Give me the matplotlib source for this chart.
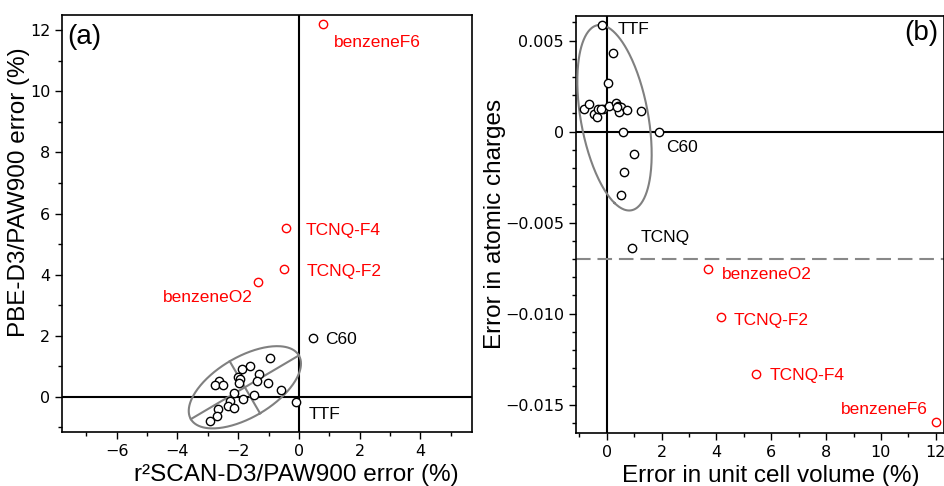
import numpy as np
import matplotlib
matplotlib.use("Agg")
import matplotlib.pyplot as plt
from matplotlib.ticker import MultipleLocator, FuncFormatter

# panel (a): r2SCAN-D3 error vs PBE-D3 error (%)
a_x = [-0.95, -1.61, -1.86, -1.32, -2.02, -1.94, -2.63, -2.75, -2.49, -1.39, -1.98,
       -1.03, -0.58, -2.15, -1.49, -1.84, -2.27, -2.33, -2.15, -2.65, -2.70, -2.93]
a_y = [1.28, 1.01, 0.92, 0.76, 0.64, 0.59, 0.53, 0.39, 0.39, 0.53, 0.47,
       0.47, 0.24, 0.13, 0.07, -0.06, -0.12, -0.29, -0.35, -0.40, -0.64, -0.80]
a_names = ["TTF", "C60"]
a_names_x = [-0.10, 0.46]
a_names_y = [-0.16, 1.93]
a_red = ["benzeneF6", "TCNQ-F4", "TCNQ-F2", "benzeneO2"]
a_red_x = [0.79, -0.43, -0.49, -1.35]
a_red_y = [12.19, 5.52, 4.20, 3.76]

# panel (b): unit cell volume error (%) vs atomic charge error
b_x = [0.23, 0.04, -0.82, -0.66, -0.45, -0.36, -0.33, -0.12, 0.09, 0.34, 0.40,
       0.52, 0.44, 0.73, 1.25, 0.58, 0.98, 0.62, 0.51, 0.38, -0.20]
b_y = [0.00434, 0.00269, 0.00123, 0.00152, 0.00096, 0.00081, 0.00126, 0.00123,
       0.00143, 0.00159, 0.00141, 0.00137, 0.00107, 0.00119, 0.00112, -0.00002,
       -0.00123, -0.00220, -0.00346, 0.00133, 0.00125]
b_names = ["TTF", "C60", "TCNQ"]
b_names_x = [-0.16, 1.92, 0.91]
b_names_y = [0.00586, 0.0, -0.0064]
b_red = ["benzeneO2", "TCNQ-F2", "TCNQ-F4", "benzeneF6"]
b_red_x = [3.71, 4.16, 5.43, 12.0]
b_red_y = [-0.00756, -0.01016, -0.01331, -0.01597]
b_cut = -0.007

K = np.sqrt(4.605)  # 90% confidence ellipse
SANS = "Liberation Sans"


def conf_ellipse(x, y, k=K):
    x, y = np.asarray(x), np.asarray(y)
    c = np.array([x.mean(), y.mean()])
    vals, vecs = np.linalg.eigh(np.cov(x, y))
    t = np.linspace(0, 2 * np.pi, 300)
    pts = c[:, None] + vecs @ (k * np.sqrt(vals)[:, None] * np.vstack([np.cos(t), np.sin(t)]))
    axes = [(c - k * np.sqrt(v) * vecs[:, i], c + k * np.sqrt(v) * vecs[:, i])
            for i, v in enumerate(vals)]
    return pts, axes


def style(ax):
    ax.tick_params(which="both", direction="out", top=False, right=False,
                   labelsize=11.5, width=1)
    ax.tick_params(which="major", length=5)
    ax.tick_params(which="minor", length=3)
    for s in ax.spines.values():
        s.set_linewidth(1.2)


def points(ax, x, y, color):
    ax.plot(x, y, "o", ms=6, mfc="white", mec=color, mew=1, zorder=5, clip_on=False)


def labels(ax, names, x, y, offs, color):
    for n, xi, yi, (dx, dy) in zip(names, x, y, offs):
        ax.annotate(n, (xi, yi), textcoords="offset points", xytext=(dx, dy),
                    ha="right" if dx < 0 else "left", va="center",
                    color=color, fontsize=12.5, family=SANS)


fig = plt.figure(figsize=(9.45, 4.86), dpi=100)
ax1 = fig.add_axes([62 / 945, 1 - 432 / 486, 410 / 945, 417 / 486])
ax2 = fig.add_axes([575.7 / 945, 1 - 432.7 / 486, 368.3 / 945, 417 / 486])

# (a)
style(ax1)
ax1.axhline(0, color="black", lw=1.5, zorder=2)
ax1.axvline(0, color="black", lw=1.5, zorder=2)
ell, axs = conf_ellipse(a_x + a_names_x, a_y + a_names_y)
ax1.plot(ell[0], ell[1], color="gray", lw=1.5, zorder=3)
for p, q in axs:
    ax1.plot([p[0], q[0]], [p[1], q[1]], color="gray", lw=1.5, zorder=3)
points(ax1, a_x + a_names_x, a_y + a_names_y, "black")
points(ax1, a_red_x, a_red_y, "red")
labels(ax1, a_names, a_names_x, a_names_y, [(9, -9), (9, -1)], "black")
labels(ax1, a_red, a_red_x, a_red_y, [(8, -13), (14, -1.5), (16, -2), (-4, -11.5)], "red")
ax1.set_xlim(-7.8, 5.7)
ax1.set_ylim(-1.15, 12.5)
ax1.xaxis.set_major_locator(MultipleLocator(2))
ax1.xaxis.set_minor_locator(MultipleLocator(1))
ax1.yaxis.set_major_locator(MultipleLocator(2))
ax1.yaxis.set_minor_locator(MultipleLocator(1))
ax1.set_xlabel("r²SCAN-D3/PAW900 error (%)", fontsize=17.5, family=SANS)
ax1.set_ylabel("PBE-D3/PAW900 error (%)", fontsize=17.5, family=SANS)
ax1.xaxis.set_label_coords(0.571, -0.077)
ax1.yaxis.set_label_coords(-0.078, 0.575)
ax1.text(0.013, 0.948, "(a)", transform=ax1.transAxes, fontsize=20, family=SANS,
         va="center", ha="left")

# (b)
style(ax2)
ax2.axhline(0, color="black", lw=1.5, zorder=2)
ax2.axvline(0, color="black", lw=1.5, zorder=2)
ax2.axhline(b_cut, color="#888888", lw=1.5, dashes=(7, 3.3), zorder=2)
ell, _ = conf_ellipse(b_x + b_names_x, b_y + b_names_y)
ax2.plot(ell[0], ell[1], color="gray", lw=1.5, zorder=3)
points(ax2, b_x + b_names_x, b_y + b_names_y, "black")
points(ax2, b_red_x, b_red_y, "red")
labels(ax2, b_names, b_names_x, b_names_y, [(11, -3), (5, -11.5), (6.5, 8)], "black")
labels(ax2, b_red, b_red_x, b_red_y, [(10, -3.5), (9.5, -2.5), (10, -1.5), (-6, 9.5)], "red")
ax2.set_xlim(-1.13, 12.3)
ax2.set_ylim(-0.01654, 0.00637)
ax2.xaxis.set_major_locator(MultipleLocator(2))
ax2.xaxis.set_minor_locator(MultipleLocator(1))
ax2.yaxis.set_major_locator(MultipleLocator(0.005))
ax2.yaxis.set_minor_locator(MultipleLocator(0.001))
ax2.yaxis.set_major_formatter(FuncFormatter(
    lambda v, _: "0" if abs(v) < 1e-9 else f"{v:.3f}".replace("-", "\u2212")))
ax2.set_xlabel("Error in unit cell volume (%)", fontsize=17.5, family=SANS)
ax2.set_ylabel("Error in atomic charges", fontsize=17.5, family=SANS)
ax2.xaxis.set_label_coords(0.529, -0.077)
ax2.yaxis.set_label_coords(-0.19, 0.5)
ax2.text(0.985, 0.958, "(b)", transform=ax2.transAxes, fontsize=20, family=SANS,
         va="center", ha="right")

fig.savefig("out.png", dpi=100)
